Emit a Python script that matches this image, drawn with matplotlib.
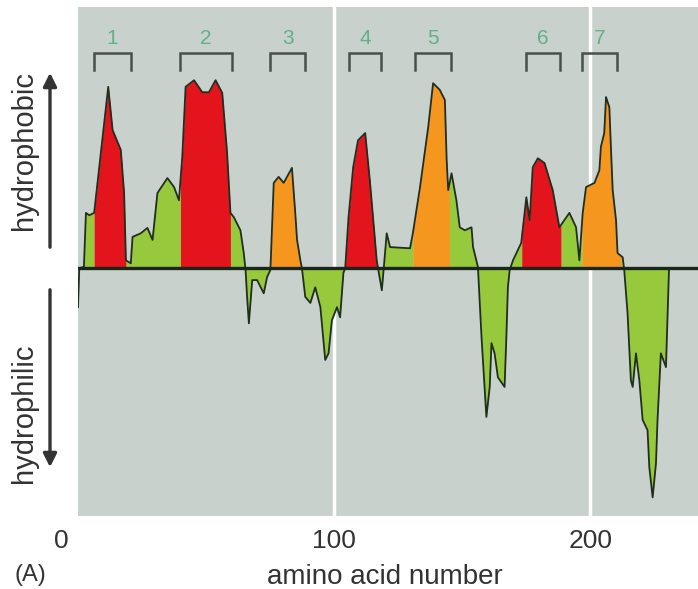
import numpy as np
import matplotlib
matplotlib.use('Agg')
import matplotlib.pyplot as plt
from matplotlib.transforms import ScaledTranslation

plt.rcParams['font.family'] = ['Liberation Sans', 'DejaVu Sans']

# perfil de hidropatia (numero de aminoacido, valor)
residuo = np.array([0, 0.5, 2.3, 3.1, 4.4, 6.3, 11.8, 13.5, 16.7, 18.0,
    18.7, 20.6, 21.3, 24.5, 27.1, 29.1, 31.0, 34.9, 37.5, 39.4,
    40.7, 42.0, 45.3, 48.5, 51.1, 53.7, 56.3, 58.2, 59.5, 60.8,
    63.4, 64.7, 65.4, 66.0, 66.7, 68.0, 69.9, 72.5, 73.8, 75.1,
    76.4, 78.3, 80.3, 83.5, 84.8, 85.5, 86.8, 87.4, 88.7, 90.7,
    92.6, 94.6, 96.5, 97.8, 99.1, 101.1, 102.3, 103.6, 104.3, 105.6,
    107.4, 109.3, 112.1, 114.0, 116.6, 117.1, 118.6, 120.5, 121.8, 129.6,
    130.7, 133.5, 136.7, 138.6, 141.2, 143.2, 143.9, 144.5, 145.8, 147.7,
    149.0, 151.0, 153.6, 154.2, 156.1, 157.5, 158.8, 159.4, 160.7, 161.4,
    162.6, 163.9, 166.5, 167.2, 167.8, 168.5, 169.8, 173.0, 175.0, 176.3,
    177.5, 179.5, 182.1, 185.3, 187.9, 191.8, 194.4, 195.7, 197.0, 198.3,
    201.6, 203.5, 204.1, 205.4, 206.1, 207.4, 208.0, 208.7, 210.0, 210.6,
    212.6, 213.2, 214.5, 215.8, 216.5, 217.8, 219.1, 220.4, 222.3, 223.0,
    224.3, 225.6, 226.2, 227.5, 229.5, 230.7])
hidropatia = np.array([-0.65, 0, 0.02, 0.92, 0.88, 0.92, 3.02, 2.3, 1.97, 1.25,
    0.13, 0.08, 0.52, 0.58, 0.67, 0.47, 1.25, 1.5, 1.35, 1.13,
    1.85, 3.02, 3.13, 2.93, 2.93, 3.13, 2.92, 1.92, 0.92, 0.85,
    0.63, 0.25, -0.03, -0.48, -0.92, -0.2, -0.2, -0.42, -0.15, -0.03,
    1.42, 1.52, 1.42, 1.67, 0.92, 0.47, 0.13, 0, -0.48, -0.58,
    -0.32, -0.65, -1.53, -1.42, -0.87, -0.65, -0.82, -0.08, 0, 0.85,
    1.68, 2.13, 2.25, 1.42, 0.13, 0, -0.37, 0.58, 0.35, 0.33,
    0.58, 1.35, 2.35, 3.08, 2.97, 2.8, 1.8, 1.3, 1.58, 1.13,
    0.68, 0.63, 0.68, 0.35, 0.02, -1.15, -2.08, -2.48, -1.98, -1.25,
    -1.42, -1.82, -1.98, -1.15, -0.32, -0.03, 0.13, 0.42, 1.18, 0.8,
    1.68, 1.83, 1.75, 1.3, 0.68, 0.92, 0.68, 0.13, 0.92, 1.35,
    1.42, 1.63, 2.02, 2.25, 2.85, 2.68, 2.02, 1.3, 0.8, 0.25,
    0.18, -0.03, -0.75, -1.87, -1.98, -1.42, -1.87, -2.53, -2.7, -3.32,
    -3.82, -3.25, -2.53, -1.42, -1.65, 0])

# segmentos transmembrana coloreados
seg_inicio = [6.3, 40.0, 75.3, 104.3, 130.7, 173.2, 196.8]
seg_fin = [18.7, 59.5, 86.9, 117.1, 145.0, 188.5, 212.0]
seg_color = ['#e3141b', '#e3141b', '#f5961f', '#e3141b', '#f5961f', '#e3141b', '#f5961f']

# corchetes numerados arriba
corchete_inicio = [6.2, 39.7, 75.1, 105.8, 131.5, 174.7, 196.9]
corchete_fin = [20.6, 60.3, 88.7, 118.3, 145.5, 188.0, 210.2]
corchete_num = ['1', '2', '3', '4', '5', '6', '7']

verde = '#97c93c'
fondo = '#c9d1cd'
linea = '#1f2e1f'

def tramo(a, b):
    dentro = (residuo > a) & (residuo < b)
    xs = np.concatenate([[a], residuo[dentro], [b]])
    ys = np.interp(xs, residuo, hidropatia)
    return xs, ys

fig = plt.figure(figsize=(6.98, 5.89), dpi=100)
ax = fig.add_axes([78/698, 73/589, 620/698, 509/589])
ax.set_facecolor(fondo)
ax.set_xlim(0, 242)
ax.set_ylim(-4.13, 4.35)

ax.axvline(100, color='white', lw=2.5, zorder=1)
ax.axvline(200, color='white', lw=2.5, zorder=1)

bordes = [residuo[0]]
for a, b in zip(seg_inicio, seg_fin):
    bordes += [a, b]
bordes.append(residuo[-1])
for i in range(0, len(bordes), 2):
    xs, ys = tramo(bordes[i], bordes[i+1])
    ax.fill_between(xs, ys, 0, color=verde, lw=0, zorder=2)
for a, b, c in zip(seg_inicio, seg_fin, seg_color):
    xs, ys = tramo(a, b)
    ax.fill_between(xs, ys, 0, color=c, lw=0, zorder=2)

ax.plot(residuo, hidropatia, color=linea, lw=1.3, zorder=3)
ax.axhline(0, color='#1a261a', lw=2.4, zorder=4)

for a, b, n in zip(corchete_inicio, corchete_fin, corchete_num):
    ax.plot([a, a, b, b], [3.3, 3.58, 3.58, 3.3], color='#4a4f4c', lw=1.8,
            solid_joinstyle='miter', zorder=3)
    ax.text((a+b)/2, 3.83, n, color='#62b088', fontsize=15, ha='center', va='center')

for s in ax.spines.values():
    s.set_visible(False)
ax.set_yticks([])
ax.set_xticks([0, 100, 200])
ax.set_xticklabels(['0', '100', '200'], fontsize=19, color='#333333')
ax.tick_params(axis='x', length=0, pad=9)
etiqueta0 = ax.get_xticklabels()[0]
etiqueta0.set_transform(etiqueta0.get_transform() + ScaledTranslation(-0.17, 0, fig.dpi_scale_trans))

fig.text(385/698, (589-577)/589, 'amino acid number', fontsize=20, color='#333333',
         ha='center', va='center')
fig.text(30/698, 3/589, '(A)', fontsize=17, color='#333333', ha='center', va='bottom')

fig.text(24/698, 1-150/589, 'hydrophobic', rotation=90, fontsize=21, color='#333333',
         ha='center', va='center')
fig.text(24/698, 1-413/589, 'hydrophilic', rotation=90, fontsize=21, color='#333333',
         ha='center', va='center')
ax.annotate('', xy=(50/698, 1-70/589), xytext=(50/698, 1-250/589), xycoords='figure fraction',
            arrowprops=dict(arrowstyle='-|>', lw=2.4, color='#333333', mutation_scale=20))
ax.annotate('', xy=(50/698, 1-470/589), xytext=(50/698, 1-287/589), xycoords='figure fraction',
            arrowprops=dict(arrowstyle='-|>', lw=2.4, color='#333333', mutation_scale=20))

fig.savefig('out.png', dpi=100)
